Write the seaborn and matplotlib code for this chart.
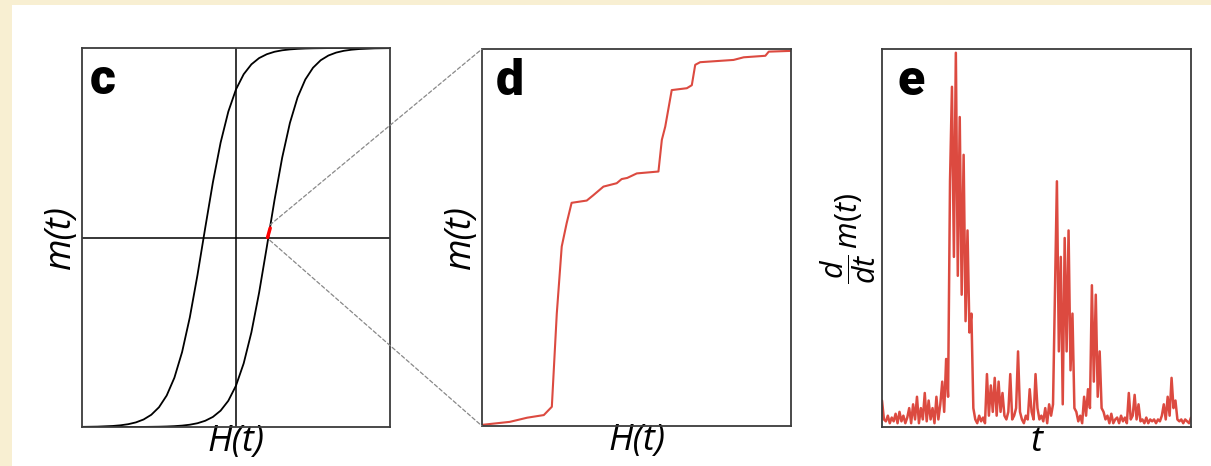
import numpy as np
import pandas as pd
import matplotlib
matplotlib.use("Agg")
import matplotlib.pyplot as plt
from matplotlib.patches import Rectangle, ConnectionPatch
import seaborn as sns

# ---------------- data ----------------
# panel c: hysteresis loop, ascending branch (H, m) and descending branch
H_up = [-1.0, -0.7, -0.6, -0.5, -0.45, -0.4, -0.35, -0.3, -0.25, -0.2, -0.15, -0.1, -0.05,
        0.0, 0.05, 0.1, 0.15, 0.2, 0.25, 0.3, 0.35, 0.4, 0.45, 0.5, 0.55, 0.6, 0.65,
        0.7, 0.75, 0.8, 0.9, 1.0]
m_up = [-1.0, -0.9999, -0.9996, -0.9984, -0.9973, -0.9955, -0.9926, -0.9879, -0.9801,
        -0.9672, -0.9468, -0.9138, -0.8617, -0.7818, -0.664, -0.5005, -0.2913, -0.05,
        0.1974, 0.4219, 0.6044, 0.7398, 0.8337, 0.8957, 0.9354, 0.9603, 0.9757, 0.9852,
        0.9910, 0.9945, 0.998, 0.9993]
H_down = [-1.0, -0.9, -0.8, -0.75, -0.7, -0.65, -0.6, -0.55, -0.5, -0.45, -0.4, -0.35,
          -0.3, -0.25, -0.2, -0.15, -0.1, -0.05, 0.0, 0.05, 0.1, 0.15, 0.2, 0.25, 0.3,
          0.35, 0.4, 0.45, 0.5, 0.6, 0.7, 1.0]
m_down = [-0.9993, -0.998, -0.9945, -0.9910, -0.9852, -0.9757, -0.9603, -0.9354, -0.8957,
          -0.8337, -0.7398, -0.6044, -0.4219, -0.1974, 0.05, 0.2913, 0.5005, 0.664, 0.7818,
          0.8617, 0.9138, 0.9468, 0.9672, 0.9801, 0.9879, 0.9926, 0.9955, 0.9973, 0.9984,
          0.9996, 0.9999, 1.0]
H_zoom = [0.205, 0.222]
m_zoom = [0.0, 0.05]

# panel d: zoomed magnetisation staircase (normalised H, m)
H_d = [0.0, 0.09, 0.146, 0.2, 0.226, 0.242, 0.258, 0.274, 0.29, 0.339, 0.36, 0.393,
       0.436, 0.452, 0.47, 0.501, 0.571, 0.582, 0.593, 0.614, 0.663, 0.679, 0.69,
       0.706, 0.76, 0.814, 0.847, 0.917, 0.928, 1.0]
m_d = [0.003, 0.011, 0.022, 0.029, 0.051, 0.298, 0.476, 0.538, 0.592, 0.598, 0.612, 0.635,
       0.644, 0.655, 0.658, 0.670, 0.675, 0.759, 0.794, 0.891, 0.896, 0.904, 0.958,
       0.965, 0.968, 0.971, 0.978, 0.982, 0.993, 0.995]

# panel e: dm/dt signal (normalised), sampled uniformly in t
dmdt = [0.07, 0.02, 0.015, 0.03, 0.01, 0.025, 0.015, 0.035, 0.01, 0.04, 0.015, 0.03, 0.01, 0.025,
        0.05, 0.01, 0.06, 0.02, 0.08, 0.01, 0.05, 0.02, 0.09, 0.015, 0.07, 0.02, 0.05, 0.01,
        0.08, 0.02, 0.06, 0.12, 0.04, 0.18, 0.08, 0.65, 0.90, 0.45, 0.99, 0.40, 0.82, 0.35,
        0.72, 0.28, 0.52, 0.25, 0.30, 0.05, 0.02, 0.01, 0.03, 0.015, 0.025, 0.01, 0.14, 0.03,
        0.11, 0.04, 0.13, 0.03, 0.12, 0.04, 0.09, 0.03, 0.02, 0.04, 0.14, 0.02, 0.03, 0.05,
        0.20, 0.04, 0.02, 0.01, 0.03, 0.02, 0.10, 0.04, 0.02, 0.14, 0.05, 0.02, 0.03, 0.015,
        0.05, 0.01, 0.06, 0.03, 0.06, 0.35, 0.65, 0.20, 0.45, 0.06, 0.50, 0.20, 0.52, 0.15,
        0.30, 0.05, 0.04, 0.015, 0.03, 0.01, 0.08, 0.03, 0.10, 0.05, 0.375, 0.12, 0.35, 0.08,
        0.20, 0.05, 0.04, 0.02, 0.03, 0.01, 0.035, 0.01, 0.02, 0.025, 0.01, 0.03, 0.015, 0.025,
        0.01, 0.09, 0.02, 0.03, 0.085, 0.02, 0.06, 0.015, 0.02, 0.01, 0.025, 0.01, 0.02, 0.015,
        0.02, 0.01, 0.02, 0.015, 0.03, 0.06, 0.02, 0.08, 0.03, 0.13, 0.05, 0.07, 0.02, 0.015,
        0.02, 0.01, 0.02, 0.015, 0.01, 0.025]
t_e = list(range(len(dmdt)))

panel_letters = ["c", "d", "e"]

# ---------------- style ----------------
sns.set_theme(style="white")
LABEL_FONT = ["Open Sans", "DejaVu Sans"]
plt.rcParams["font.family"] = LABEL_FONT
plt.rcParams["mathtext.fontset"] = "custom"
plt.rcParams["mathtext.rm"] = "Open Sans"
plt.rcParams["mathtext.it"] = "Open Sans:italic"

BG = "#f8efd2"
RED = "#dc4a40"
SPINE = "#3c3c3c"

W, Hpx = 1211, 466
fig = plt.figure(figsize=(W / 100, Hpx / 100), dpi=100, facecolor=BG)
fig.patches.append(Rectangle((12 / W, 0), 1, 1 - 5 / Hpx, transform=fig.transFigure,
                             facecolor="white", edgecolor="none", zorder=-10))


def box(l, t, r, b):
    return [l / W, 1 - b / Hpx, (r - l) / W, (b - t) / Hpx]


ax_c = fig.add_axes(box(82, 48, 390, 427))
ax_d = fig.add_axes(box(482, 49, 791, 426))
ax_e = fig.add_axes(box(882, 49, 1191, 427))

# panel c
df_up = pd.DataFrame({"H": H_up, "m": m_up})
df_dn = pd.DataFrame({"H": H_down, "m": m_down})
ax_c.axvline(0, color="black", lw=1.1, zorder=1)
ax_c.axhline(0, color="black", lw=1.1, zorder=1)
sns.lineplot(data=df_up, x="H", y="m", ax=ax_c, color="black", lw=1.3, sort=False,
             estimator=None, zorder=2)
sns.lineplot(data=df_dn, x="H", y="m", ax=ax_c, color="black", lw=1.3, sort=False,
             estimator=None, zorder=2)
sns.lineplot(x=H_zoom, y=m_zoom, ax=ax_c, color="red", lw=2.5, sort=False,
             estimator=None, zorder=3)
ax_c.set_xlim(-1, 1)
ax_c.set_ylim(-1, 1)

# panel d
sns.lineplot(x=H_d, y=m_d, ax=ax_d, color=RED, lw=1.5, sort=False, estimator=None)
ax_d.set_xlim(0, 1)
ax_d.set_ylim(0, 1)

# panel e
sns.lineplot(x=t_e, y=dmdt, ax=ax_e, color=RED, lw=1.8, sort=False, estimator=None)
ax_e.set_xlim(0, len(dmdt) - 1)
ax_e.set_ylim(0, 1)

for ax in (ax_c, ax_d, ax_e):
    ax.set_facecolor("white")
    for s in ax.spines.values():
        s.set_visible(True)
        s.set_color(SPINE)
        s.set_linewidth(1.3)
    ax.set_xticks([])
    ax.set_yticks([])

# labels (seaborn hides them when there are no tick labels, so force visibility)
lab_kw = dict(fontsize=26, style="italic", color="black", family=LABEL_FONT, visible=True)
ax_c.set_xlabel("H(t)", labelpad=-2, **lab_kw)
ax_c.set_ylabel("m(t)", labelpad=2, **lab_kw)
ax_d.set_xlabel("H(t)", labelpad=-2, **lab_kw)
ax_d.set_ylabel("m(t)", labelpad=2, **lab_kw)
ax_e.set_xlabel("t", labelpad=-2, **lab_kw)
ax_e.set_ylabel(r"$\dfrac{d}{dt}\,m(t)$", labelpad=3, fontsize=22, color="black", visible=True)

for ax, letter, dx in zip((ax_c, ax_d, ax_e), panel_letters, (0.026, 0.045, 0.05)):
    ax.text(dx, 0.975, letter, transform=ax.transAxes, ha="left", va="top",
            fontsize=36, fontweight="black", family=["Roboto", "DejaVu Sans"], color="black")

# dashed zoom connectors
for (xa, ya), (xb, yb) in [((0.22, 0.066), (0.0, 1.0)), ((0.22, -0.015), (0.0, 0.0))]:
    con = ConnectionPatch(xyA=(xa, ya), coordsA="data", axesA=ax_c,
                          xyB=(xb, yb), coordsB="axes fraction", axesB=ax_d,
                          color="#888888", lw=0.9, ls=(0, (3, 2)), zorder=5)
    fig.add_artist(con)

fig.savefig("out.png", dpi=100, facecolor=BG)
